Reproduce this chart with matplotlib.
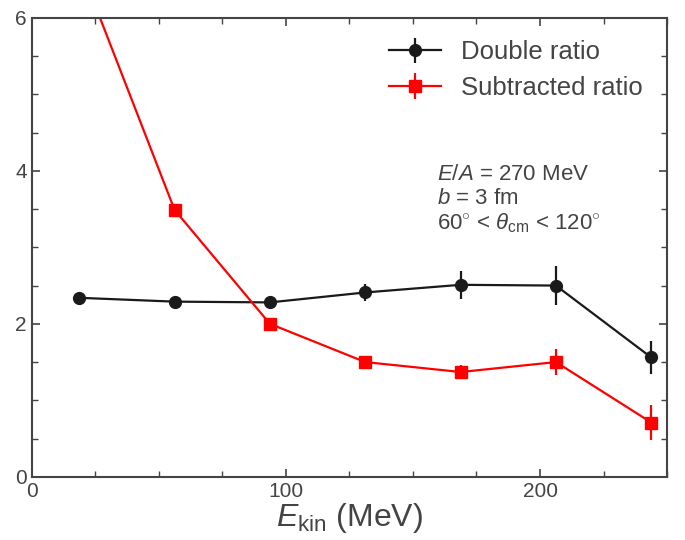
import matplotlib
matplotlib.use("Agg")
import matplotlib.pyplot as plt
from matplotlib.ticker import MultipleLocator

plt.rcParams['font.family'] = ['Liberation Sans', 'DejaVu Sans']
plt.rcParams['mathtext.fontset'] = 'custom'
plt.rcParams['mathtext.rm'] = 'Liberation Sans'
plt.rcParams['mathtext.it'] = 'Liberation Sans:italic'

ekin = [18.75, 56.25, 93.75, 131.25, 168.75, 206.25, 243.75]
double_ratio = [2.34, 2.29, 2.28, 2.41, 2.51, 2.50, 1.56]
double_err = [0.03, 0.03, 0.03, 0.11, 0.18, 0.25, 0.22]
sub_ratio = [6.7, 3.49, 2.00, 1.50, 1.37, 1.50, 0.71]
sub_err = [0.05, 0.07, 0.03, 0.05, 0.09, 0.17, 0.23]

grey = '#444444'
fig = plt.figure(figsize=(6.85, 5.4), dpi=100)
ax = fig.add_axes([0.046, 0.117, 0.928, 0.850])

ax.errorbar(ekin, double_ratio, yerr=double_err, color='#1a1a1a', marker='o', ms=8.5,
            lw=1.6, elinewidth=1.6, capsize=0, label='Double ratio')
ax.errorbar(ekin, sub_ratio, yerr=sub_err, color='#ff0000', marker='s', ms=8.5,
            lw=1.6, elinewidth=1.6, capsize=0, label='Subtracted ratio')

ax.set_xlim(0, 250)
ax.set_ylim(0, 6)
ax.xaxis.set_major_locator(MultipleLocator(100))
ax.xaxis.set_minor_locator(MultipleLocator(25))
ax.yaxis.set_major_locator(MultipleLocator(2))
ax.yaxis.set_minor_locator(MultipleLocator(0.5))
ax.tick_params(which='both', direction='in', top=True, right=True, color=grey,
               labelcolor=grey, labelsize=15)
ax.tick_params(which='major', length=6, width=1.2)
ax.tick_params(which='minor', length=4, width=1.0)
for s in ax.spines.values():
    s.set_color(grey)
    s.set_linewidth(1.5)

ax.set_xlabel(r'$E_{\rm kin}$ (MeV)', fontsize=23, color=grey, labelpad=0)

leg = ax.legend(loc='upper right', frameon=False, fontsize=18.5, handlelength=2.0,
                handletextpad=0.8, labelspacing=0.45, labelcolor=grey,
                borderaxespad=0.3, bbox_to_anchor=(0.99, 0.99))

lines = [r'$E/A$ = 270 MeV', r'$b$ = 3 fm',
         r'60$^{\circ}$ < $\theta_{\rm cm}$ < 120$^{\circ}$']
ys = [3.95, 3.64, 3.31]
for t, y in zip(lines, ys):
    ax.text(159.5, y, t, fontsize=16, color=grey, va='center', ha='left')

fig.savefig('out.png', dpi=100)
